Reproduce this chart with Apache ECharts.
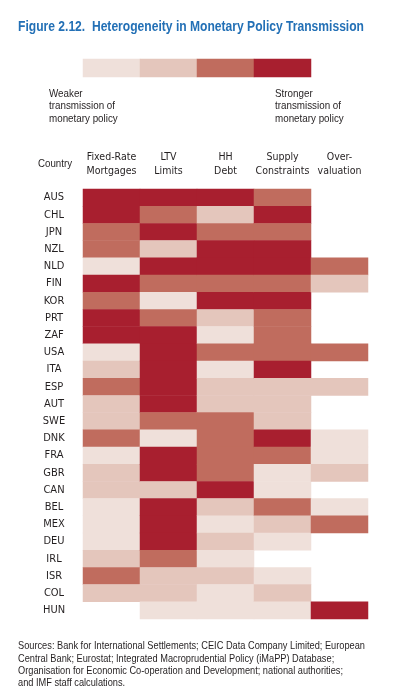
<!DOCTYPE html>
<html>
<head>
<meta charset="utf-8">
<script src="https://cdn.jsdelivr.net/npm/echarts@6/dist/echarts.min.js"></script>
<style>
html,body{margin:0;padding:0;background:#fff;}
#chart{width:396px;height:694px;}
</style>
</head>
<body>
<div id="chart"></div>
<script>
const countries = ['AUS','CHL','JPN','NZL','NLD','FIN','KOR','PRT','ZAF','USA','ITA','ESP','AUT','SWE','DNK','FRA','GBR','CAN','BEL','MEX','DEU','IRL','ISR','COL','HUN'];
const indicators = ['Fixed-Rate\nMortgages','LTV\nLimits','HH\nDebt','Supply\nConstraints','Over-\nvaluation'];
// 0 = no data, 1 = weakest ... 4 = strongest transmission
const fixedRate = [4,4,3,3,1,4,3,4,4,1,2,3,2,2,3,1,2,2,1,1,1,2,3,2,0];
const ltvLimits = [4,3,4,2,4,3,1,3,4,4,4,4,4,3,1,4,4,2,4,4,4,3,2,2,1];
const hhDebt    = [4,2,3,4,4,3,4,2,1,3,1,2,2,3,3,3,3,4,2,1,2,1,2,1,1];
const supply    = [3,4,3,4,4,3,4,3,3,3,4,2,2,2,4,3,1,1,3,2,1,0,1,2,1];
const overval   = [0,0,0,0,3,2,0,0,0,3,0,2,0,0,1,1,2,0,1,3,0,0,0,0,4];
const legendLevels = [1,2,3,4];
const levelColors = ['#EFE0DA','#E4C6BC','#C06C5E','#A81F2F'];

const titleText = 'Figure 2.12.  Heterogeneity in Monetary Policy Transmission';
const weakText = 'Weaker\ntransmission of\nmonetary policy';
const strongText = 'Stronger\ntransmission of\nmonetary policy';
const sourceLines = [
  'Sources: Bank for International Settlements; CEIC Data Company Limited; European',
  'Central Bank; Eurostat; Integrated Macroprudential Policy (iMaPP) Database;',
  'Organisation for Economic Co-operation and Development; national authorities;',
  'and IMF staff calculations.'
];

const FONT = '"DejaVu Sans Condensed","Liberation Sans",sans-serif';
const TFONT = '"Liberation Sans",Arial,sans-serif';

// helper: horizontal scale so a line of text matches a narrow (condensed) width
const ctx = document.createElement('canvas').getContext('2d');
function fitScale(line, size, weight, target) {
  ctx.font = weight + ' ' + size + 'px ' + TFONT;
  return target / ctx.measureText(line).width;
}
const titleScale = fitScale(titleText, 14, 'bold', 346);
const legScale = fitScale('transmission of', 11.5, 'normal', 66);
const srcScale = fitScale(sourceLines[0], 10.8, 'normal', 347);
const ctyScale = fitScale('Country', 11.5, 'normal', 34);

const columns = [fixedRate, ltvLimits, hhDebt, supply, overval];
const heatData = [];
columns.forEach((col, xi) => {
  col.forEach((v, yi) => { if (v > 0) heatData.push([xi, yi, v]); });
});
const legendData = legendLevels.map((v, i) => [i, 0, v]);

function txt(x, y, text, size, scale, opts) {
  return Object.assign({
    type: 'text', x: x, y: y, scaleX: scale, scaleY: 1, originX: 0, originY: 0,
    style: Object.assign({
      text: text, fontFamily: TFONT, fontSize: size, fill: '#231F20',
      align: 'left', verticalAlign: 'top'
    }, opts || {})
  });
}

const chart = echarts.init(document.getElementById('chart'), null, {renderer: 'canvas'});
chart.setOption({
  animation: false,
  backgroundColor: '#fff',
  visualMap: {
    show: false,
    type: 'piecewise',
    seriesIndex: [0, 1],
    dimension: 2,
    pieces: legendLevels.map((v, i) => ({value: v, color: levelColors[i]}))
  },
  grid: [
    {left: 83, width: 285, top: 189, height: 430},
    {left: 83, width: 228, top: 59, height: 18}
  ],
  xAxis: [
    {
      type: 'category', gridIndex: 0, position: 'top', data: indicators,
      axisLine: {show: false}, axisTick: {show: false}, splitLine: {show: false},
      axisLabel: {fontFamily: FONT, fontSize: 10.5, lineHeight: 14, color: '#231F20', margin: 11, interval: 0}
    },
    {
      type: 'category', gridIndex: 1, data: legendLevels.map(String), show: false
    }
  ],
  yAxis: [
    {
      type: 'category', gridIndex: 0, data: countries, inverse: true,
      axisLine: {show: false}, axisTick: {show: false}, splitLine: {show: false},
      axisLabel: {fontFamily: FONT, fontSize: 11, color: '#231F20', align: 'center', margin: 29, interval: 0}
    },
    {
      type: 'category', gridIndex: 1, data: ['legend'], show: false
    }
  ],
  series: [
    {
      type: 'heatmap', xAxisIndex: 0, yAxisIndex: 0, data: heatData,
      itemStyle: {borderWidth: 0}, emphasis: {disabled: true}
    },
    {
      type: 'heatmap', xAxisIndex: 1, yAxisIndex: 1, data: legendData,
      itemStyle: {borderWidth: 0}, emphasis: {disabled: true}
    }
  ],
  graphic: [
    txt(18, 20, titleText, 14, titleScale, {fontWeight: 'bold', fill: '#2370B6'}),
    txt(49, 87, weakText, 11.5, legScale, {lineHeight: 12.8}),
    txt(275, 87, strongText, 11.5, legScale, {lineHeight: 12.8}),
    txt(38, 158, 'Country', 11.5, ctyScale),
    txt(18, 640, sourceLines.join('\n'), 10.8, srcScale, {lineHeight: 12.4})
  ]
});
</script>
</body>
</html>
